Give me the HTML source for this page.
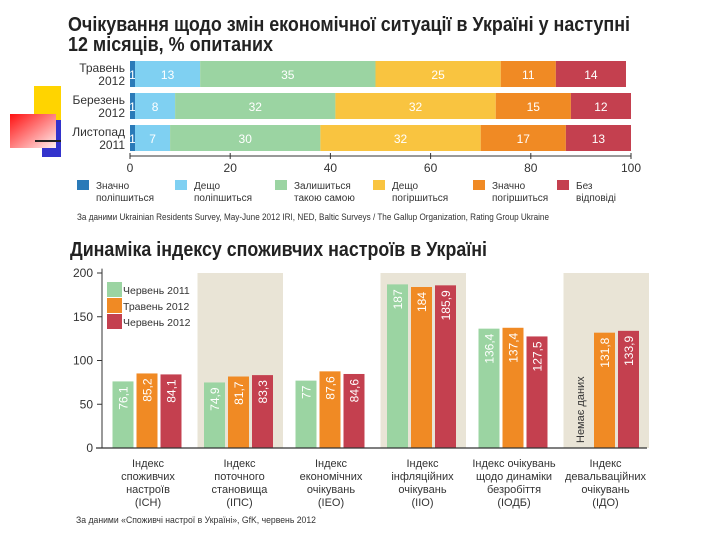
<!DOCTYPE html>
<html><head><meta charset="utf-8"><style>
body{margin:0;background:#fff;}
svg{display:block;font-family:"Liberation Sans Narrow","Liberation Sans",sans-serif;}
</style></head><body>
<svg width="720" height="540" viewBox="0 0 720 540">
<defs><linearGradient id="rg" x1="0" y1="0" x2="1" y2="1"><stop offset="0" stop-color="#ff1010"/><stop offset="1" stop-color="#fff0f0"/></linearGradient></defs>
<g>
<rect x="34" y="86" width="27" height="34" fill="#ffd400"/>
<rect x="42" y="120" width="19" height="37" fill="#3333cc"/>
<rect x="10" y="114" width="46" height="34" fill="url(#rg)"/>
<rect x="35" y="140" width="26" height="2" fill="#222"/>
</g>
<g font-weight="bold" font-size="20" fill="#222">
<text x="68" y="31" textLength="562" lengthAdjust="spacingAndGlyphs">Очікування щодо змін економічної ситуації в Україні у наступні</text>
<text x="68" y="51" textLength="205" lengthAdjust="spacingAndGlyphs">12 місяців, % опитаних</text>
</g>
<g id="top"></g>
<text x="77" y="220" font-size="9" fill="#333" textLength="472" lengthAdjust="spacingAndGlyphs">За даними Ukrainian Residents Survey, May-June 2012 IRI, NED, Baltic Surveys / The Gallup Organization, Rating Group Ukraine</text>
<text x="70" y="256" font-weight="bold" font-size="20" fill="#222" textLength="417" lengthAdjust="spacingAndGlyphs">Динаміка індексу споживчих настроїв в Україні</text>
<g id="bot"></g>
<text x="76" y="523" font-size="9.5" fill="#333" textLength="240" lengthAdjust="spacingAndGlyphs">За даними «Споживчі настрої в Україні», GfK, червень 2012</text>
</svg>
<script>
const NS="http://www.w3.org/2000/svg";
function mk(p,t,a){const e=document.createElementNS(NS,t);for(const k in a)e.setAttribute(k,a[k]);p.appendChild(e);return e;}
// top chart data
const rows=["Травень|2012","Березень|2012","Листопад|2011"];
const segNames=["Значно|поліпшиться","Дещо|поліпшиться","Залишиться|такою самою","Дещо|погіршиться","Значно|погіршиться","Без|відповіді"];
const segColors=["#2a7ab8","#7fd0f2","#9bd4a2","#f9c440","#f08a24","#c4404f"];
const s1=[1,1,1];
const s2=[13,8,7];
const s3=[35,32,30];
const s4=[25,32,32];
const s5=[11,15,17];
const s6=[14,12,13];
const topTicks=[0,20,40,60,80,100];
// bottom chart data
const groups=["Індекс|споживчих|настроїв|(ІСН)","Індекс|поточного|становища|(ІПС)","Індекс|економічних|очікувань|(ІЕО)","Індекс|інфляційних|очікувань|(ІІО)","Індекс очікувань|щодо динаміки|безробіття|(ІОДБ)","Індекс|девальваційних|очікувань|(ІДО)"];
const seriesNames=["Червень 2011","Травень 2012","Червень 2012"];
const jun2011=[76.1,74.9,77,187,136.4,null];
const may2012=[85.2,81.7,87.6,184,137.4,131.8];
const jun2012=[84.1,83.3,84.6,185.9,127.5,133.9];
const labels2011=["76,1","74,9","77","187","136,4",""];
const labelsMay=["85,2","81,7","87,6","184","137,4","131,8"];
const labelsJun=["84,1","83,3","84,6","185,9","127,5","133,9"];
const botTicks=[0,50,100,150,200];
const botColors=["#9bd4a2","#f08a24","#c4404f"];

// ---- top
const T=document.getElementById('top');
const tx=v=>130+v*5.01;
const rowY=[61,93,125],rowH=26;
const segs=[s1,s2,s3,s4,s5,s6];
rows.forEach((r,i)=>{
  const ls=r.split('|');
  ls.forEach((l,j)=>{const t=mk(T,'text',{x:125,y:rowY[i]+11+j*13,'text-anchor':'end','font-size':12,fill:'#333'});t.textContent=l;
  
  });
  let acc=0;
  segs.forEach((s,k)=>{
    const v=s[i];
    const b=mk(T,'rect',{x:tx(acc),y:rowY[i],width:tx(acc+v)-tx(acc),height:rowH,fill:segColors[k]});
    
    
    const t=mk(T,'text',{x:(tx(acc)+tx(acc+v))/2,y:rowY[i]+18,'text-anchor':'middle','font-size':12,fill:'#fff'});
    t.textContent=v;
    
    
    acc+=v;
  });
});
mk(T,'line',{x1:130,x2:631,y1:156,y2:156,stroke:'#333','stroke-width':1});
topTicks.forEach(v=>{
  mk(T,'line',{x1:tx(v),x2:tx(v),y1:153,y2:159,stroke:'#333'});
  const t=mk(T,'text',{x:tx(v),y:172,'text-anchor':'middle','font-size':12,fill:'#333'});t.textContent=v;
  
  
});
const legX=[77,175,275,373,473,557];
segNames.forEach((n,k)=>{
  const r=mk(T,'rect',{x:legX[k],y:180,width:12,height:10,fill:segColors[k]});
  
  
  n.split('|').forEach((l,j)=>{const t=mk(T,'text',{x:legX[k]+19,y:189+j*12,'font-size':10,fill:'#333'});t.textContent=l;
  
  });
});

// ---- bottom
const B=document.getElementById('bot');
const y0=448,ys=175/200;
const by=v=>y0-v*ys;
const gw=91.5,gx0=102;
[1,3,5].forEach(i=>{const r=mk(B,'rect',{x:gx0+i*gw+4,y:by(200),width:gw-6,height:y0-by(200),fill:'#e9e4d6'});

});
const all=[jun2011,may2012,jun2012],labs=[labels2011,labelsMay,labelsJun];
groups.forEach((g,i)=>{
  const c=gx0+46+i*gw;
  all.forEach((s,k)=>{
    const x=c-35.5+k*24;
    if(s[i]===null){
      const t=mk(B,'text',{transform:`translate(${x+14},${y0-5}) rotate(-90)`,'font-size':11,fill:'#333'});t.textContent='Немає даних';
      
      
      return;}
    const b=mk(B,'rect',{x:x,y:by(s[i]),width:21,height:y0-by(s[i]),fill:botColors[k]});
    
    
    const t=mk(B,'text',{transform:`translate(${x+15},${by(s[i])+5}) rotate(-90)`,'text-anchor':'end','font-size':12,fill:'#fff'});
    t.textContent=labs[k][i];
    
    
  });
  g.split('|').forEach((l,j)=>{const t=mk(B,'text',{x:c,y:467+j*13,'text-anchor':'middle','font-size':11,fill:'#333'});t.textContent=l;
  
  });
});
mk(B,'line',{x1:102,x2:102,y1:by(205),y2:y0,stroke:'#333'});
mk(B,'line',{x1:96,x2:647,y1:y0,y2:y0,stroke:'#333','stroke-width':1.2});
botTicks.forEach(v=>{
  mk(B,'line',{x1:97,x2:102,y1:by(v),y2:by(v),stroke:'#333'});
  const t=mk(B,'text',{x:93,y:by(v)+4,'text-anchor':'end','font-size':12,fill:'#333'});t.textContent=v;
  
  
});
seriesNames.forEach((n,k)=>{
  const r=mk(B,'rect',{x:107,y:282+k*16,width:15,height:15,fill:botColors[k]});
  
  
  const t=mk(B,'text',{x:123,y:294+k*16,'font-size':10.5,fill:'#333'});t.textContent=n;
  
  
});
</script>
</body></html>
